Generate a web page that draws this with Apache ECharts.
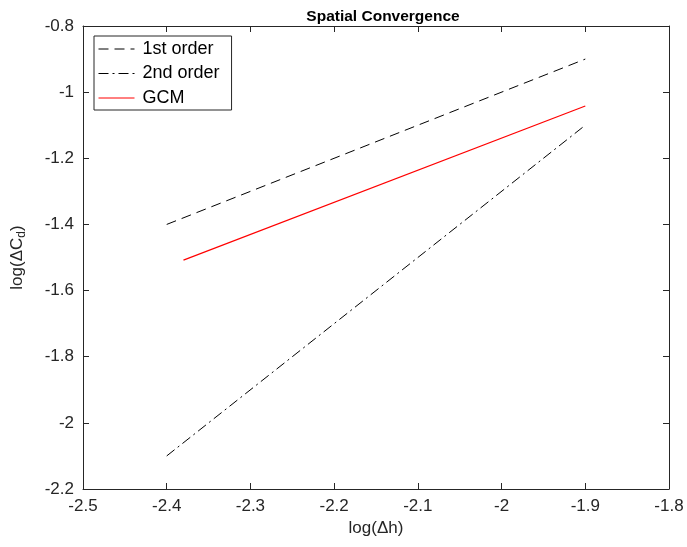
<!DOCTYPE html>
<html><head><meta charset="utf-8">
<script src="https://cdn.jsdelivr.net/npm/echarts@6/dist/echarts.min.js"></script>
<style>html,body{margin:0;padding:0;background:#fff}#c{width:687px;height:547px}</style>
</head><body><div id="c"></div>
<script>
const seriesNames = ['1st order', '2nd order', 'GCM'];
const firstOrder = [[-2.4, -1.4], [-1.9, -0.9]];
const secondOrder = [[-2.4, -2.1], [-1.9, -1.1]];
const gcm = [[-2.38, -1.508], [-1.9, -1.042]];
const xTicks = [-2.5, -2.4, -2.3, -2.2, -2.1, -2, -1.9, -1.8];
const yTicks = [-0.8, -1, -1.2, -1.4, -1.6, -1.8, -2, -2.2];

const F = '"Liberation Sans", Arial, Helvetica, sans-serif';
const axisCol = '#262626';
const fmt = v => String(Math.round(v * 10) / 10);
const baseAxis = {
  axisLine: {show: true, onZero: false, lineStyle: {color: axisCol, width: 1}},
  axisTick: {show: true, inside: true, length: 6, lineStyle: {color: axisCol}},
  splitLine: {show: false}
};
const chart = echarts.init(document.getElementById('c'));
chart.setOption({
  animation: false,
  title: {text: 'Spatial Convergence', left: 378, top: 4, textAlign: 'center',
    textStyle: {fontFamily: F, fontSize: 15.5, fontWeight: 'bold', color: '#000'}},
  grid: {left: 83, right: 18, top: 26, bottom: 58},
  legend: {
    data: seriesNames, orient: 'vertical', left: 94, top: 36,
    itemWidth: 36, itemHeight: 18, itemGap: 6.5,
    padding: [4, 12, 3, 4],
    borderColor: '#262626', borderWidth: 1, backgroundColor: '#fff',
    itemStyle: {opacity: 0},
    lineStyle: {opacity: 1, width: 1},
    textStyle: {fontFamily: F, fontSize: 18, color: '#000', padding: [0, 0, 0, 3]}
  },
  xAxis: [
    Object.assign({}, baseAxis, {type: 'value', min: -2.5, max: -1.8, interval: 0.1, position: 'bottom',
      name: 'log(Δh)', nameLocation: 'middle', nameGap: 31,
      nameTextStyle: {fontFamily: F, fontSize: 17, color: '#262626'},
      axisLabel: {fontFamily: F, fontSize: 17, color: '#262626', margin: 9, formatter: fmt}}),
    Object.assign({}, baseAxis, {type: 'value', min: -2.5, max: -1.8, interval: 0.1, position: 'top',
      axisLabel: {show: false}})
  ],
  yAxis: [
    Object.assign({}, baseAxis, {type: 'value', min: -2.2, max: -0.8, interval: 0.2, position: 'left',
      name: '{n|log(ΔC}{s|d}{n|)}', nameLocation: 'middle', nameGap: 55,
      nameTextStyle: {rich: {
        n: {fontFamily: F, fontSize: 17, color: '#262626'},
        s: {fontFamily: F, fontSize: 12, color: '#262626', verticalAlign: 'bottom', padding: [10, 0, 0, 0]}
      }},
      axisLabel: {fontFamily: F, fontSize: 17, color: '#262626', margin: 9, formatter: fmt}}),
    Object.assign({}, baseAxis, {type: 'value', min: -2.2, max: -0.8, interval: 0.2, position: 'right',
      axisLabel: {show: false}})
  ],
  series: [
    {name: seriesNames[0], type: 'line', data: firstOrder, showSymbol: false, symbol: 'none',
      lineStyle: {color: '#000', width: 1, type: [10, 6]}, itemStyle: {color: '#000'}},
    {name: seriesNames[1], type: 'line', data: secondOrder, showSymbol: false, symbol: 'none',
      lineStyle: {color: '#000', width: 1, type: [10, 4, 2, 4]}, itemStyle: {color: '#000'}},
    {name: seriesNames[2], type: 'line', data: gcm, showSymbol: false, symbol: 'none',
      lineStyle: {color: '#ff0000', width: 1.2}, itemStyle: {color: '#ff0000'}}
  ]
});
</script></body></html>
